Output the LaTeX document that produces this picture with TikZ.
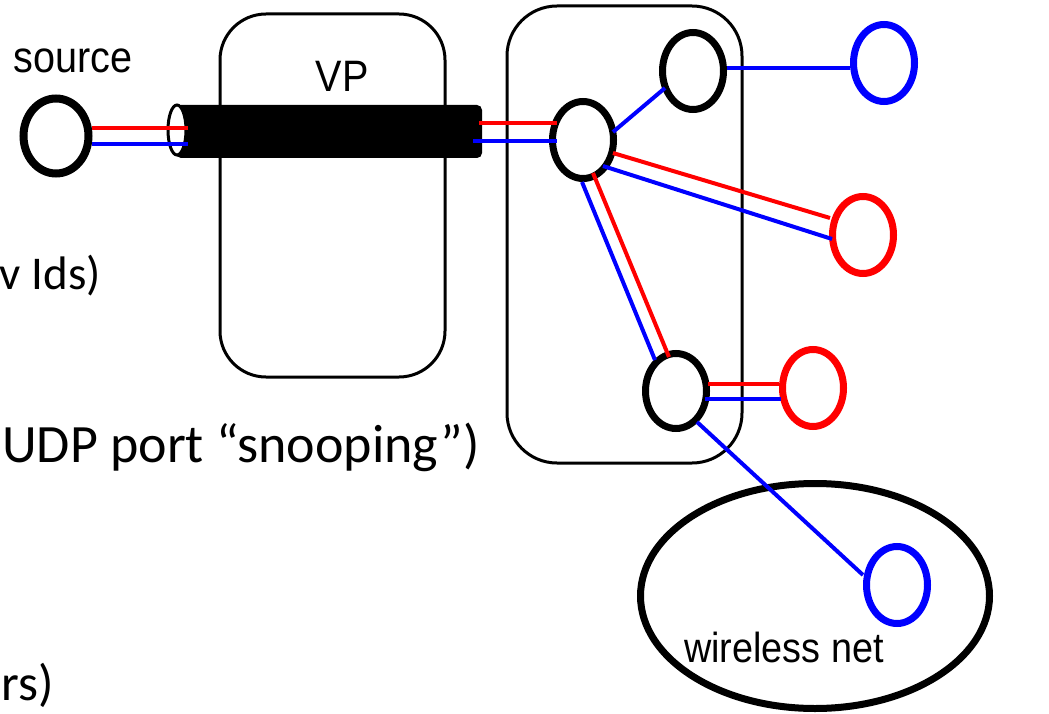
\documentclass[tikz,border=0pt]{standalone}
\usepackage{fontspec}
\setmainfont{Liberation Sans}
\newfontfamily\calfont{Carlito}
\usetikzlibrary{shapes.geometric,calc}
\begin{document}
\begin{tikzpicture}[x=1pt,y=-1pt,
  router/.style={ellipse, draw=black, line width=7, fill=white, minimum width=61, minimum height=77, inner sep=0},
  hostblue/.style={router, draw=blue},
  hostred/.style={router, draw=red},
  box/.style={draw=black, line width=3, rounded corners=46, inner sep=0},
  rl/.style={draw=red, line width=4},
  bl/.style={draw=blue, line width=4},
  lab/.style={inner sep=0, font=\fontsize{44}{50}\selectfont},
  frag/.style={inner sep=0, font=\calfont\fontsize{#1}{#1}\selectfont}
]
\useasboundingbox (0,0) rectangle (1049,714);

% containers
\node[box, minimum width=225, minimum height=363] (vp) at (332.5,195.5) {};
\node[box, minimum width=235, minimum height=457, rounded corners=50] (net) at (624.5,234.5) {};
\node[ellipse, draw=black, line width=7, minimum width=349, minimum height=225, inner sep=0] (wl) at (815,596) {};

% tube
\node[fill=black, minimum width=306, minimum height=53, inner sep=0, rounded corners=5] (tube) at (329,131.5) {};
\node[ellipse, draw=black, line width=3, fill=white, minimum width=18, minimum height=50, inner sep=0] (tend) at (177,130) {};

% hosts and routers
\node[router, minimum width=65, minimum height=75, line width=8] (src) at (56,136) {};
\node[router] (R1) at (583,140) {};
\node[router] (R2) at (693,71) {};
\node[router, minimum height=75] (R3) at (676,391) {};
\node[hostblue] (H1) at (884,63) {};
\node[hostred] (H2) at (863,235) {};
\node[hostred] (H3) at (813,388) {};
\node[hostblue] (H4) at (897,585) {};

% connectors
\draw[rl] ($(src)+(36,-8)$) -- ($(tend)+(11,-2)$);
\draw[bl] ($(src)+(36,8)$) -- ($(tend)+(11,14)$);
\draw[rl] ($(tube.east)+(-3,-8.5)$) -- ($(R1)+(-26,-17)$);
\draw[bl] ($(tube.east)+(-9,9.5)$) -- ($(R1)+(-26,1)$);
\draw[bl] ($(R1)+(30,-8)$) -- ($(R2)+(-28,17)$);
\draw[bl] ($(R2)+(34,-3)$) -- ($(H1)+(-34,5)$);
\draw[rl] ($(R1)+(30,13)$) -- ($(H2)+(-33,-17)$);
\draw[bl] ($(R1)+(20,26)$) -- ($(H2)+(-31,4)$);
\draw[bl] ($(R1)+(-1,42)$) -- ($(R3)+(-21,-31)$);
\draw[rl] ($(R1)+(10,33)$) -- ($(R3)+(-7,-34)$);
\draw[rl] ($(R3)+(32,-7)$) -- ($(H3)+(-34,-4)$);
\draw[bl] ($(R3)+(29,8)$) -- ($(H3)+(-32,11)$);
\draw[bl] ($(R3)+(21,31)$) -- ($(H4)+(-34,-10)$);

% labels
\node[lab, anchor=base] (srclab) at (73,73) {\scalebox{0.9}[1]{source}};
\node[lab, anchor=base] (vplab) at (342,92) {\scalebox{0.9}[1]{VP}};
\node[lab, anchor=base, font=\fontsize{42}{48}\selectfont] (wllab) at (784,662) {\scalebox{0.9}[1]{wireless net}};

% cut-off slide text
\node[frag=47, anchor=base east] (t1) at (101,289) {v Ids)};
\node[frag=54, anchor=base west] (t2) at (2,462) {UDP port “snooping”)};
\node[frag=51, anchor=base east] (t3) at (54,700) {rs)};
\end{tikzpicture}
\end{document}
